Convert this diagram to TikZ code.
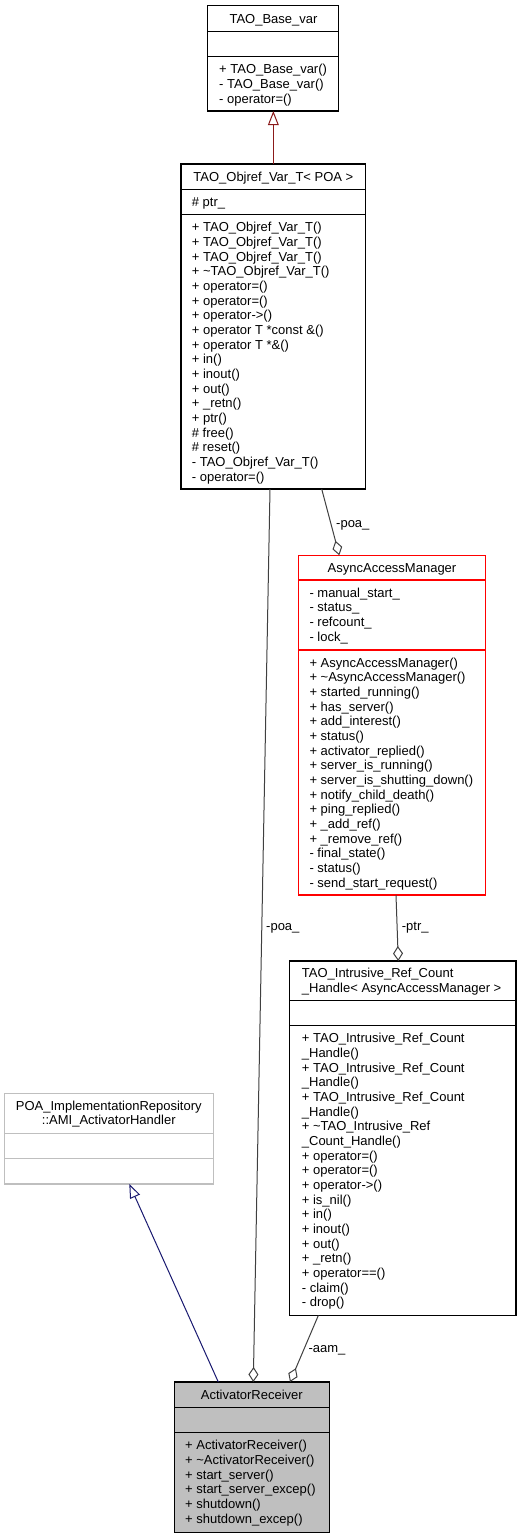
\documentclass[tikz,border=0pt]{standalone}
\usepackage{fontspec}
\setmainfont{Liberation Sans}
\usetikzlibrary{arrows.meta}
\definecolor{edgegrey}{HTML}{404040}
\definecolor{privred}{HTML}{8B1A1A}
\definecolor{pubblue}{HTML}{191970}
\definecolor{fillgrey}{HTML}{BFBFBF}
\definecolor{ghostgrey}{HTML}{BFBFBF}
\definecolor{alertred}{HTML}{FF0000}
\newcommand\clsrows[4]{%
  \foreach \rowtext [count=\rowi] in {#4} {
    \node[memberline] (#1\rowi) at (#2, {#3+(\rowi-1)*14.67}) {\rowtext};
  }}
\newcommand\clssep[3]{\draw[#3] ([yshift=-#2bp]#1.north west) -- ([yshift=-#2bp]#1.north east);}
\begin{document}
\begin{tikzpicture}[x=1bp,y=-1bp,
  font=\fontsize{13bp}{14.67bp}\selectfont,
  classbox/.style={draw, line width=1.1bp, inner sep=0pt, outer sep=0pt},
  rule/.style={line width=1.1bp},
  memberline/.style={anchor=base west, inner sep=0pt},
  titleline/.style={anchor=base, inner sep=0pt},
  edgelabel/.style={anchor=base west, inner sep=0pt},
  usage/.style={draw=edgegrey, line width=1bp, -{Diamond[open, length=15bp, width=10bp]}},
  privinh/.style={draw=privred, line width=1bp, -{Triangle[open, length=14bp, width=10.7bp]}},
  pubinh/.style={draw=pubblue, line width=1bp, -{Triangle[open, length=14bp, width=10.7bp]}}]
\fill[white] (0,0) rectangle (520,1539);
\useasboundingbox (0,0) rectangle (520,1539);

% TAO_Base_var
\node[classbox, minimum width=130.6bp, minimum height=105.3bp] (base) at (273,58.35) {};
\clssep{base}{26}{rule}
\clssep{base}{51}{rule}
\node[titleline] (base-t) at (273.5,23.3) {TAO\_Base\_var};
\clsrows{base-m}{219}{73.9}{+ TAO\_Base\_var(), - TAO\_Base\_var(), - operator=()}

% TAO_Objref_Var_T
\node[classbox, minimum width=184.7bp, minimum height=325bp] (obj) at (273.35,326.5) {};
\clssep{obj}{25.3}{rule}
\clssep{obj}{50.3}{rule}
\node[titleline] (obj-t) at (273.35,181.3) {TAO\_Objref\_Var\_T< POA >};
\clsrows{obj-a}{191.7}{206.4}{\# ptr\_}
\clsrows{obj-m}{191.7}{231.9}{+ TAO\_Objref\_Var\_T(), + TAO\_Objref\_Var\_T(), + TAO\_Objref\_Var\_T(), + \textasciitilde TAO\_Objref\_Var\_T(), + operator=(), + operator=(), + operator->(), + operator T *const \&(), + operator T *\&(), + in(), + inout(), + out(), + \_retn(), + ptr(), \# free(), \# reset(), - TAO\_Objref\_Var\_T(), - operator=()}

% AsyncAccessManager
\node[classbox, draw=alertred, minimum width=187.4bp, minimum height=339.7bp] (aam) at (392,725.15) {};
\clssep{aam}{24.7}{rule, alertred}
\clssep{aam}{94.7}{rule, alertred}
\node[titleline] (aam-t) at (392,572.3) {AsyncAccessManager};
\clsrows{aam-a}{309.3}{597.2}{- manual\_start\_, - status\_, - refcount\_, - lock\_}
\clsrows{aam-m}{309.3}{667.2}{+ AsyncAccessManager(), + \textasciitilde AsyncAccessManager(), + started\_running(), + has\_server(), + add\_interest(), + status(), + activator\_replied(), + server\_is\_running(), + server\_is\_shutting\_down(), + notify\_child\_death(), + ping\_replied(), + \_add\_ref(), + \_remove\_ref(), - final\_state(), - status(), - send\_start\_request()}

% TAO_Intrusive_Ref_Count_Handle
\node[classbox, minimum width=226.7bp, minimum height=354.5bp] (irc) at (402.65,1138.25) {};
\clssep{irc}{39.7}{rule}
\clssep{irc}{64.7}{rule}
\clsrows{irc-t}{301.7}{977.9}{TAO\_Intrusive\_Ref\_Count, \_Handle< AsyncAccessManager >}
\clsrows{irc-m}{301.7}{1042.9}{+ TAO\_Intrusive\_Ref\_Count, \_Handle(), + TAO\_Intrusive\_Ref\_Count, \_Handle(), + TAO\_Intrusive\_Ref\_Count, \_Handle(), + \textasciitilde TAO\_Intrusive\_Ref, \_Count\_Handle(), + operator=(), + operator=(), + operator->(), + is\_nil(), + in(), + inout(), + out(), + \_retn(), + operator==(), - claim(), - drop()}

% POA_ImplementationRepository::AMI_ActivatorHandler
\node[classbox, draw=ghostgrey, minimum width=209bp, minimum height=90.7bp] (poa) at (108.8,1138.65) {};
\clssep{poa}{40}{rule, ghostgrey}
\clssep{poa}{65.4}{rule, ghostgrey}
\node[titleline] (poa-t1) at (108.8,1110) {POA\_ImplementationRepository};
\node[titleline] (poa-t2) at (108.8,1124.6) {::AMI\_ActivatorHandler};

% ActivatorReceiver
\node[classbox, fill=fillgrey, minimum width=155bp, minimum height=150.3bp] (ar) at (251.8,1457.15) {};
\clssep{ar}{25.7}{rule}
\clssep{ar}{50.7}{rule}
\node[titleline] (ar-t) at (251.8,1399.5) {ActivatorReceiver};
\clsrows{ar-m}{185}{1449.9}{+ ActivatorReceiver(), + \textasciitilde ActivatorReceiver(), + start\_server(), + start\_server\_excep(), + shutdown(), + shutdown\_excep()}

% connectors
\draw[privinh] (obj.north) -- (obj.north |- base.south);
\draw[pubinh] ([xshift=44bp]ar.north west) -- ([xshift=125bp]poa.south west);
\draw[usage] ([xshift=89bp]obj.south west) -- ([xshift=79bp]ar.north west);
\draw[usage] ([xshift=140.7bp]obj.south west) -- ([xshift=41bp]aam.north west);
\draw[usage] ([xshift=97.7bp]aam.south west) -- ([xshift=109bp]irc.north west);
\draw[usage] ([xshift=29bp]irc.south west) -- ([xshift=115.7bp]ar.north west);

% connector labels
\node[edgelabel] (l-poa1) at (336,527) {-poa\_};
\node[edgelabel] (l-poa2) at (266,930.7) {-poa\_};
\node[edgelabel] (l-ptr) at (401.7,930.7) {-ptr\_};
\node[edgelabel] (l-aam) at (308.3,1352.3) {-aam\_};
\end{tikzpicture}
\end{document}
